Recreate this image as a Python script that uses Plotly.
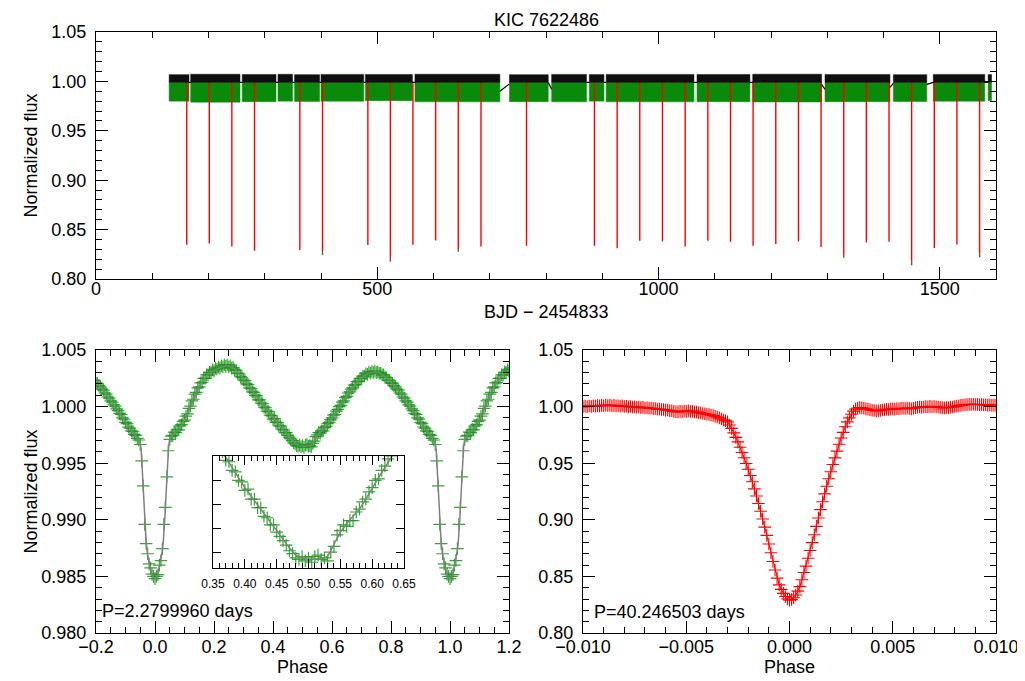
import plotly.graph_objects as go

# ---------------- data ----------------
TITLE = "KIC 7622486"

# Top panel: observed data chunks (BJD-2454833) and band levels
SEG_START = [130.0, 168.3, 260.0, 323.5, 353.0, 400.0, 479.0, 567.0, 735.0, 810.0, 877.0, 907.0, 1068.5, 1167.5, 1296.0, 1417.5, 1488.5, 1586.0]
SEG_END = [165.3, 256.0, 320.0, 349.5, 397.5, 476.0, 562.5, 718.0, 804.0, 872.0, 903.0, 1063.0, 1162.5, 1290.0, 1411.5, 1477.0, 1580.0, 1592.0]
GREEN_LOW = [0.9800, 0.9790, 0.9795, 0.9800, 0.9797, 0.9800, 0.9805, 0.9793, 0.9795, 0.9793, 0.9800, 0.9793, 0.9795, 0.9792, 0.9795, 0.9797, 0.9800, 0.9805]
GREEN_HIGH = [0.9990] * 18
BLACK_LOW = [0.9990] * 18
BLACK_HIGH = [1.0068, 1.0072, 1.0070, 1.0072, 1.0068, 1.0071, 1.0070, 1.0072, 1.0068, 1.0071, 1.0069, 1.0071, 1.0070, 1.0073, 1.0070, 1.0068, 1.0071, 1.0069]
GAP_LEFT_FLUX = [0.9990, 0.9990, 0.9990, 0.9990, 0.9990, 0.9990, 0.9990, 0.9900, 0.9990, 0.9990, 0.9990, 0.9990, 0.9990, 0.9970, 0.9940, 0.9970, 0.9990]
GAP_RIGHT_FLUX = [0.9990, 0.9990, 0.9990, 0.9990, 0.9990, 0.9990, 0.9990, 0.9975, 0.9920, 0.9990, 0.9990, 0.9990, 0.9990, 0.9920, 0.9980, 0.9990, 0.9990]

ECL_TIME = [161.3, 201.4, 241.5, 281.8, 362.4, 402.7, 483.3, 523.3, 563.4, 603.8, 644.0, 684.4, 765.3,
            886.1, 926.5, 966.7, 1007.0, 1047.4, 1087.7, 1128.0, 1168.2, 1208.5, 1248.8, 1289.0,
            1329.3, 1369.5, 1409.8, 1450.0, 1490.3, 1530.5, 1570.8]
ECL_RED_DEPTH = [0.8346, 0.8360, 0.8330, 0.8286, 0.8293, 0.8270, 0.8343, 0.8205, 0.8346, 0.8390, 0.8295, 0.8330, 0.8336,
                 0.8336, 0.8310, 0.8386, 0.8380, 0.8330, 0.8386, 0.8376, 0.8336, 0.8353, 0.8380, 0.8323,
                 0.8245, 0.8370, 0.8376, 0.8175, 0.8313, 0.8350, 0.8255]
ECL_GREEN_DEPTH = [0.8346, 0.8360, 0.8330, 0.8286, 0.8293, 0.8245, 0.8343, 0.8175, 0.8346, 0.8390, 0.8275, 0.8330, 0.8336,
                   0.8336, 0.8310, 0.8386, 0.8380, 0.8330, 0.8386, 0.8376, 0.8336, 0.8353, 0.8380, 0.8323,
                   0.8215, 0.8370, 0.8376, 0.8138, 0.8313, 0.8350, 0.8220]
ECL_TOP = 1.0000

# Bottom-left: P = 2.2799960 d folded light curve (phase 0..1, bins of 0.005)
LC_PHASE_START = 0.0
LC_PHASE_STEP = 0.005
LC_FLUX = [
    0.98480, 0.98500, 0.98515, 0.98600, 0.98640, 0.98745, 0.98960, 0.99110, 0.99380, 0.99610,
    0.99710, 0.99740, 0.99745, 0.99775, 0.99770, 0.99800, 0.99795, 0.99830, 0.99840, 0.99870,
    0.99880, 0.99915, 0.99935, 0.99985, 1.00005, 1.00050, 1.00065, 1.00110, 1.00125, 1.00165,
    1.00175, 1.00210, 1.00215, 1.00250, 1.00250, 1.00280, 1.00280, 1.00305, 1.00300, 1.00325,
    1.00315, 1.00340, 1.00330, 1.00350, 1.00340, 1.00360, 1.00350, 1.00370, 1.00355, 1.00370,
    1.00350, 1.00360, 1.00340, 1.00345, 1.00325, 1.00320, 1.00295, 1.00290, 1.00265, 1.00255,
    1.00235, 1.00230, 1.00200, 1.00195, 1.00165, 1.00160, 1.00130, 1.00125, 1.00100, 1.00095,
    1.00060, 1.00060, 1.00030, 1.00025, 0.99995, 0.99990, 0.99960, 0.99955, 0.99925, 0.99920,
    0.99890, 0.99895, 0.99860, 0.99860, 0.99830, 0.99830, 0.99800, 0.99795, 0.99770, 0.99770,
    0.99745, 0.99730, 0.99715, 0.99700, 0.99680, 0.99670, 0.99655, 0.99650, 0.99660, 0.99645,
    0.99655, 0.99640, 0.99660, 0.99665, 0.99650, 0.99655, 0.99645, 0.99675, 0.99695, 0.99735,
    0.99750, 0.99770, 0.99765, 0.99785, 0.99785, 0.99815, 0.99825, 0.99850, 0.99860, 0.99885,
    0.99900, 0.99925, 0.99930, 0.99960, 0.99975, 1.00000, 1.00010, 1.00040, 1.00050, 1.00080,
    1.00090, 1.00120, 1.00130, 1.00155, 1.00165, 1.00190, 1.00195, 1.00220, 1.00225, 1.00250,
    1.00250, 1.00270, 1.00270, 1.00290, 1.00285, 1.00305, 1.00295, 1.00310, 1.00300, 1.00315,
    1.00300, 1.00305, 1.00295, 1.00295, 1.00280, 1.00280, 1.00260, 1.00255, 1.00235, 1.00230,
    1.00210, 1.00205, 1.00185, 1.00175, 1.00155, 1.00145, 1.00120, 1.00110, 1.00085, 1.00075,
    1.00050, 1.00040, 1.00015, 1.00005, 0.99980, 0.99965, 0.99940, 0.99930, 0.99900, 0.99890,
    0.99860, 0.99850, 0.99820, 0.99810, 0.99785, 0.99780, 0.99755, 0.99745, 0.99720, 0.99705,
    0.99665, 0.99520, 0.99300, 0.98960, 0.98790, 0.98700, 0.98610, 0.98575, 0.98520, 0.98500,
]
MODEL_PHASE = [0.000, 0.005, 0.010, 0.015, 0.020, 0.025, 0.028, 0.031, 0.034, 0.037, 0.040, 0.043, 0.046, 0.049,
               0.055, 0.060, 0.070, 0.080, 0.090, 0.100, 0.110, 0.120, 0.130, 0.140, 0.150, 0.160, 0.170,
               0.180, 0.190, 0.200, 0.210, 0.220, 0.230, 0.240, 0.250, 0.260, 0.270, 0.280, 0.290, 0.300,
               0.310, 0.320, 0.330, 0.340, 0.350, 0.360, 0.370, 0.380, 0.390, 0.400, 0.410, 0.420, 0.430,
               0.440, 0.450, 0.460, 0.470, 0.480, 0.490, 0.500, 0.510, 0.520, 0.530, 0.540, 0.550, 0.560,
               0.570, 0.580, 0.590, 0.600, 0.610, 0.620, 0.630, 0.640, 0.650, 0.660, 0.670, 0.680, 0.690,
               0.700, 0.710, 0.720, 0.730, 0.740, 0.750, 0.760, 0.770, 0.780, 0.790, 0.800, 0.810, 0.820,
               0.830, 0.840, 0.850, 0.860, 0.870, 0.880, 0.890, 0.900, 0.910, 0.920, 0.930, 0.940, 0.945,
               0.950, 0.953, 0.955, 0.958, 0.961, 0.964, 0.967, 0.970, 0.975, 0.980, 0.985, 0.990, 0.995]
MODEL_FLUX = [0.98480, 0.98490, 0.98530, 0.98590, 0.98650, 0.98730, 0.98800, 0.98900, 0.99040, 0.99200,
              0.99380, 0.99530, 0.99640, 0.99700, 0.99730, 0.99755, 0.99780, 0.99805, 0.99835, 0.99880,
              0.99940, 1.00010, 1.00070, 1.00130, 1.00180, 1.00220, 1.00255, 1.00285, 1.00305, 1.00320,
              1.00335, 1.00345, 1.00355, 1.00360, 1.00358, 1.00350, 1.00335, 1.00310, 1.00280, 1.00245,
              1.00210, 1.00175, 1.00140, 1.00110, 1.00075, 1.00040, 1.00005, 0.99970, 0.99935, 0.99900,
              0.99870, 0.99840, 0.99810, 0.99780, 0.99750, 0.99720, 0.99690, 0.99665, 0.99655, 0.99650,
              0.99650, 0.99652, 0.99660, 0.99700, 0.99745, 0.99775, 0.99800, 0.99825, 0.99860, 0.99900,
              0.99935, 0.99970, 1.00010, 1.00050, 1.00090, 1.00130, 1.00165, 1.00200, 1.00230, 1.00255,
              1.00275, 1.00290, 1.00300, 1.00305, 1.00305, 1.00300, 1.00285, 1.00265, 1.00240, 1.00215,
              1.00190, 1.00160, 1.00125, 1.00090, 1.00055, 1.00020, 0.99985, 0.99945, 0.99905, 0.99865,
              0.99825, 0.99790, 0.99760, 0.99725, 0.99700, 0.99670, 0.99630, 0.99530, 0.99370, 0.99220,
              0.99050, 0.98910, 0.98800, 0.98690, 0.98620, 0.98560, 0.98520, 0.98490]
P_SHORT = "P=2.2799960 days"

# Bottom-right: P = 40.246503 d folded eclipse (phase -0.0100..0.0100, step 0.0001)
EC_PHASE_START = -0.0100
EC_PHASE_STEP = 0.0001
EC_FLUX = [
    1.0000, 1.0004, 0.9999, 1.0005, 1.0002, 1.0007, 1.0004, 1.0009, 1.0006, 1.0011,
    1.0008, 1.0013, 1.0010, 1.0013, 1.0008, 1.0011, 1.0006, 1.0008, 1.0003, 1.0006,
    1.0001, 1.0003, 0.9998, 1.0001, 0.9996, 0.9999, 0.9994, 0.9996, 0.9991, 0.9993,
    0.9988, 0.9990, 0.9985, 0.9987, 0.9982, 0.9983, 0.9978, 0.9979, 0.9974, 0.9975,
    0.9969, 0.9970, 0.9964, 0.9964, 0.9958, 0.9955, 0.9953, 0.9958, 0.9956, 0.9961,
    0.9958, 0.9962, 0.9957, 0.9958, 0.9952, 0.9952, 0.9946, 0.9945, 0.9939, 0.9937,
    0.9932, 0.9930, 0.9925, 0.9921, 0.9915, 0.9908, 0.9900, 0.9891, 0.9882, 0.9876,
    0.9865, 0.9838, 0.9808, 0.9768, 0.9728, 0.9688, 0.9641, 0.9595, 0.9548, 0.9498,
    0.9446, 0.9392, 0.9336, 0.9273, 0.9210, 0.9144, 0.9076, 0.9007, 0.8935, 0.8862,
    0.8786, 0.8709, 0.8631, 0.8556, 0.8485, 0.8425, 0.8385, 0.8350, 0.8322, 0.8300,
    0.8290,
    0.8296, 0.8312, 0.8336, 0.8370, 0.8410, 0.8470, 0.8535, 0.8591, 0.8660, 0.8729,
    0.8798, 0.8868, 0.8942, 0.9016, 0.9090, 0.9160, 0.9229, 0.9297, 0.9362, 0.9425,
    0.9488, 0.9547, 0.9607, 0.9667, 0.9722, 0.9772, 0.9822, 0.9865, 0.9900, 0.9932,
    0.9960, 0.9978, 0.9988, 0.9992, 0.9990, 0.9986, 0.9980, 0.9976, 0.9972, 0.9968,
    0.9966, 0.9962, 0.9964, 0.9966, 0.9970, 0.9972, 0.9976, 0.9975, 0.9978, 0.9980,
    0.9978, 0.9982, 0.9980, 0.9984, 0.9986, 0.9983, 0.9987, 0.9984, 0.9980, 0.9985,
    0.9990, 0.9994, 0.9996, 0.9993, 0.9997, 1.0000, 0.9998, 1.0002, 0.9999, 1.0001,
    0.9998, 0.9996, 0.9993, 0.9991, 0.9989, 0.9992, 0.9990, 0.9994, 0.9997, 1.0001,
    1.0004, 1.0008, 1.0011, 1.0014, 1.0016, 1.0018, 1.0020, 1.0019, 1.0021, 1.0018,
    1.0020, 1.0017, 1.0019, 1.0015, 1.0017, 1.0013, 1.0015, 1.0011, 1.0013, 1.0010,
]
P_LONG = "P=40.246503 days"

# ---------------- styling ----------------
# the page body has an 8 px margin, so the figure is drawn 8 px in from the window corner
OFF = 8
W, H = 1025 - OFF, 681 - OFF
FONT = "Liberation Sans, Arial, Helvetica, sans-serif"
FS = 18


def px_x(px):
    return (px - OFF) / W


def px_y(py):
    return 1 - (py - OFF) / H


GREEN = "rgb(10,138,10)"
GREEN_MK = "rgba(20,150,20,0.85)"
RED = "rgb(255,0,0)"

fig = go.Figure()


def band(x0, x1, lo, hi, color, ax="x", ay="y"):
    fig.add_trace(go.Scatter(x=[x0, x1, x1, x0, x0], y=[hi, hi, lo, lo, hi],
                             mode="lines", fill="toself", fillcolor=color, line=dict(color=color, width=0.5),
                             hoverinfo="skip", showlegend=False, xaxis=ax, yaxis=ay))


# ---- top panel ----
for i in range(len(SEG_START)):
    band(SEG_START[i], SEG_END[i], GREEN_LOW[i], GREEN_HIGH[i], GREEN)
ex, ey, rx, ry = [], [], [], []
for t, dg, dr in zip(ECL_TIME, ECL_GREEN_DEPTH, ECL_RED_DEPTH):
    ex += [t, t, None]
    ey += [dr, dg, None]
    rx += [t, t, None]
    ry += [ECL_TOP, dr, None]
fig.add_trace(go.Scatter(x=ex, y=ey, mode="lines", line=dict(color=GREEN, width=1.4),
                         hoverinfo="skip", showlegend=False, xaxis="x", yaxis="y"))
fig.add_trace(go.Scatter(x=rx, y=ry, mode="lines", line=dict(color=RED, width=1.4),
                         hoverinfo="skip", showlegend=False, xaxis="x", yaxis="y"))
for i in range(len(SEG_START)):
    band(SEG_START[i], SEG_END[i], BLACK_LOW[i], BLACK_HIGH[i], "rgb(15,15,15)")
gx, gy = [], []
for i in range(len(SEG_START) - 1):
    gx += [SEG_END[i], SEG_START[i + 1], None]
    gy += [GAP_LEFT_FLUX[i], GAP_RIGHT_FLUX[i], None]
fig.add_trace(go.Scatter(x=gx, y=gy, mode="lines", line=dict(color="black", width=1.2),
                         hoverinfo="skip", showlegend=False, xaxis="x", yaxis="y"))

# ---- bottom-left: short-period fold ----
lc_phase = [LC_PHASE_START + LC_PHASE_STEP * i for i in range(len(LC_FLUX))]
px_, py_ = [], []
for p, f in zip(lc_phase, LC_FLUX):
    if p >= 0.79:
        px_.append(p - 1); py_.append(f)
for p, f in zip(lc_phase, LC_FLUX):
    px_.append(p); py_.append(f)
for p, f in zip(lc_phase, LC_FLUX):
    if p <= 0.21:
        px_.append(p + 1); py_.append(f)
mx, my = [], []
for p, f in zip(MODEL_PHASE, MODEL_FLUX):
    if p >= 0.79:
        mx.append(p - 1); my.append(f)
for p, f in zip(MODEL_PHASE, MODEL_FLUX):
    mx.append(p); my.append(f)
for p, f in zip(MODEL_PHASE, MODEL_FLUX):
    if p <= 0.21:
        mx.append(p + 1); my.append(f)

mk_green = dict(symbol="cross-thin", size=9, line=dict(color=GREEN_MK, width=1.2), color=GREEN_MK)
fig.add_trace(go.Scatter(x=px_, y=py_, mode="markers", marker=mk_green,
                         hoverinfo="skip", showlegend=False, xaxis="x2", yaxis="y2"))
fig.add_trace(go.Scatter(x=mx, y=my, mode="lines", line=dict(color="rgb(128,128,128)", width=1.5),
                         hoverinfo="skip", showlegend=False, xaxis="x2", yaxis="y2"))

# inset
fig.add_trace(go.Scatter(x=lc_phase, y=LC_FLUX, mode="markers", marker=mk_green,
                         hoverinfo="skip", showlegend=False, xaxis="x4", yaxis="y4"))
fig.add_trace(go.Scatter(x=MODEL_PHASE, y=MODEL_FLUX, mode="lines", line=dict(color="rgb(128,128,128)", width=1.5),
                         hoverinfo="skip", showlegend=False, xaxis="x4", yaxis="y4"))

# ---- bottom-right: long-period eclipse ----
ec_phase = [EC_PHASE_START + EC_PHASE_STEP * i for i in range(len(EC_FLUX))]
fig.add_trace(go.Scatter(x=ec_phase, y=EC_FLUX, mode="lines", line=dict(color=RED, width=1),
                         hoverinfo="skip", showlegend=False, xaxis="x3", yaxis="y3"))
fig.add_trace(go.Scatter(x=ec_phase, y=EC_FLUX, mode="markers",
                         marker=dict(symbol="cross-thin", size=9, color=RED, line=dict(color=RED, width=1.1)),
                         hoverinfo="skip", showlegend=False, xaxis="x3", yaxis="y3"))


def ax(domain, rng, dtick, mdtick, fmt, anchor, ticklen=12, mlen=6, showlabels=True, tick0=None, tickvals=None,
       fs=FS, standoff=0):
    d = dict(domain=domain, range=rng, anchor=anchor, showline=True, linecolor="black", linewidth=1.3,
             mirror="allticks", ticks="inside", ticklen=ticklen, tickwidth=1.3, tickcolor="black",
             showgrid=False, zeroline=False, tickformat=fmt, showticklabels=showlabels, automargin=False,
             ticklabelstandoff=standoff, tickfont=dict(family=FONT, size=fs, color="black"))
    if tickvals is not None:
        d["tickmode"] = "array"
        d["tickvals"] = tickvals
    else:
        d["dtick"] = dtick
        d["tick0"] = tick0 if tick0 is not None else 0
    if mdtick:
        d["minor"] = dict(ticks="inside", ticklen=mlen, tickwidth=1.1, tickcolor="black", dtick=mdtick, showgrid=False)
    return d


top_y = [px_y(279), px_y(32)]
bot_y = [px_y(633), px_y(350)]
INSET_LO, INSET_HI = 0.99620, 1.00010
inset_ticks = [INSET_LO + f * (INSET_HI - INSET_LO) for f in (0.138, 0.353, 0.568, 0.783)]

fig.update_layout(
    template="none",
    width=W, height=H, margin=dict(l=0, r=0, t=0, b=0, autoexpand=False),
    paper_bgcolor="white", plot_bgcolor="white", showlegend=False,
    font=dict(family=FONT, size=FS, color="black"),
    xaxis=ax([px_x(96), px_x(996)], [0, 1600], 500, 100, "d", "y", standoff=-7),
    yaxis=ax(top_y, [0.80, 1.05], 0.05, 0.01, ".2f", "x", standoff=5),
    xaxis2=ax([px_x(96), px_x(509)], [-0.2, 1.2], 0.2, 0.05, ".1f", "y2", tick0=0, standoff=-3),
    yaxis2=ax(bot_y, [0.980, 1.005], 0.005, 0.001, ".3f", "x2", standoff=5),
    xaxis3=ax([px_x(583), px_x(996)], [-0.010, 0.010], 0.005, 0.001, ".3f", "y3", standoff=-3),
    yaxis3=ax(bot_y, [0.80, 1.05], 0.05, 0.01, ".2f", "x3", standoff=5),
    xaxis4=ax([px_x(213), px_x(404)], [0.35, 0.65], 0.05, 0.01, ".2f", "y4", ticklen=9, mlen=5, tick0=0, fs=12,
              standoff=4),
    yaxis4=ax([px_y(568), px_y(456)], [INSET_LO, INSET_HI], None, None, "", "x4", ticklen=8, showlabels=False,
              tickvals=inset_ticks),
)

ann = [
    dict(text=TITLE, x=px_x(546), y=1.0, yanchor="top"),
    dict(text="BJD \u2212 2454833", x=px_x(546), y=px_y(312)),
    dict(text="Normalized flux", x=px_x(30), y=px_y(155.5), textangle=-90),
    dict(text="Normalized flux", x=px_x(30), y=px_y(491.5), textangle=-90),
    dict(text="Phase", x=px_x(302.5), y=px_y(667)),
    dict(text="Phase", x=px_x(789.5), y=px_y(667)),
    dict(text=P_SHORT, x=px_x(100), y=px_y(611), xanchor="left"),
    dict(text=P_LONG, x=px_x(592), y=px_y(612), xanchor="left"),
]
for a in ann:
    a.setdefault("xanchor", "center")
    a.setdefault("yanchor", "middle")
    fig.add_annotation(xref="paper", yref="paper", showarrow=False,
                       font=dict(family=FONT, size=FS, color="black"), **a)

fig.write_html("out.html")
